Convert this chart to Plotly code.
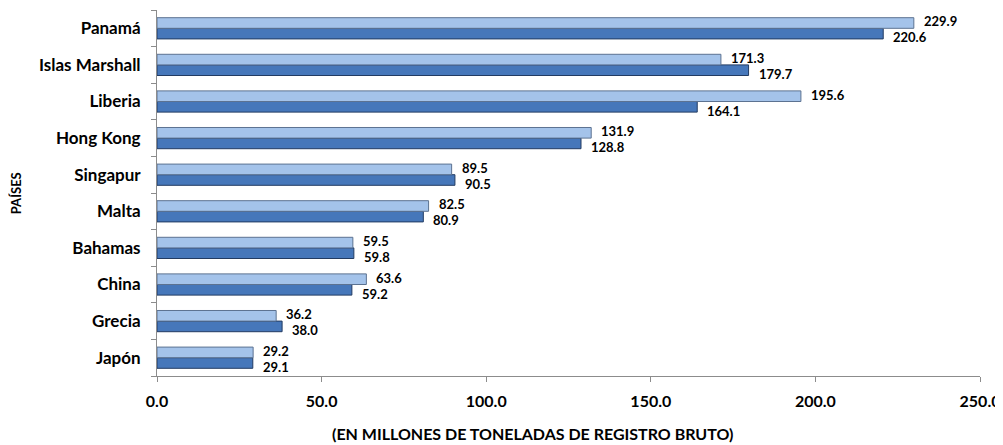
import plotly.graph_objects as go

paises = ["Panamá", "Islas Marshall", "Liberia", "Hong Kong", "Singapur",
          "Malta", "Bahamas", "China", "Grecia", "Japón"]
serie_a = [229.9, 171.3, 195.6, 131.9, 89.5, 82.5, 59.5, 63.6, 36.2, 29.2]   # light, upper bar
serie_b = [220.6, 179.7, 164.1, 128.8, 90.5, 80.9, 59.8, 59.2, 38.0, 29.1]   # dark, lower bar
x_ticks = [0, 50, 100, 150, 200, 250]

FONT = "Lato, 'Open Sans', Arial, sans-serif"

fig = go.Figure()
fig.add_trace(go.Bar(
    y=paises, x=serie_b, orientation="h", name="Serie B",
    marker=dict(color="#4677ba", line=dict(color="#223b62", width=1)),
))
fig.add_trace(go.Bar(
    y=paises, x=serie_a, orientation="h", name="Serie A",
    marker=dict(color="#a4c3ea", line=dict(color="#5c7291", width=1)),
))

annotations = []
for p, va, vb in zip(paises, serie_a, serie_b):
    annotations.append(dict(x=va, y=p, xref="x", yref="y", text=f"<b>{va:.1f}</b>",
                            showarrow=False, xanchor="left", yanchor="middle",
                            xshift=9, yshift=7, borderpad=0,
                            font=dict(family=FONT, size=13, color="black")))
    annotations.append(dict(x=vb, y=p, xref="x", yref="y", text=f"<b>{vb:.1f}</b>",
                            showarrow=False, xanchor="left", yanchor="middle",
                            xshift=9, yshift=-9, borderpad=0,
                            font=dict(family=FONT, size=13, color="black")))
annotations.append(dict(x=0.456, y=-0.157, xref="paper", yref="paper",
                        text="<b>(EN MILLONES DE TONELADAS DE REGISTRO BRUTO)</b>",
                        showarrow=False, xanchor="center", yanchor="middle",
                        font=dict(family=FONT, size=16, color="black")))
annotations.append(dict(x=-0.171, y=0.5, xref="paper", yref="paper",
                        text="<b>PAÍSES</b>", textangle=-90,
                        showarrow=False, xanchor="center", yanchor="middle",
                        font=dict(family=FONT, size=13, color="black")))

fig.update_layout(
    width=995, height=437,
    margin=dict(l=149, r=23, t=2, b=69),
    paper_bgcolor="white", plot_bgcolor="white",
    barmode="group", bargap=0.42, bargroupgap=0.0,
    showlegend=False,
    font=dict(family=FONT, size=13, color="black"),
    annotations=annotations,
)
fig.update_xaxes(
    range=[0, 250], tickvals=x_ticks, ticktext=[f"<b>{v:.1f}</b>" for v in x_ticks],
    automargin=False,
    showgrid=False, zeroline=False, showline=True, linecolor="#8c8c8c", linewidth=1,
    ticks="outside", ticklen=5, tickcolor="#8c8c8c",
    tickfont=dict(family=FONT, size=16, color="black"),
    ticklabelstandoff=6,
)
fig.update_yaxes(
    categoryorder="array", categoryarray=paises[::-1],
    automargin=False,
    showgrid=False, zeroline=False, showline=True, linecolor="#8c8c8c", linewidth=1,
    ticks="outside", ticklen=5, tickcolor="#8c8c8c", tickson="boundaries",
    tickfont=dict(family=FONT, size=17, color="black", weight="bold"),
    ticklabelstandoff=12,
)

fig.write_html("out.html")
